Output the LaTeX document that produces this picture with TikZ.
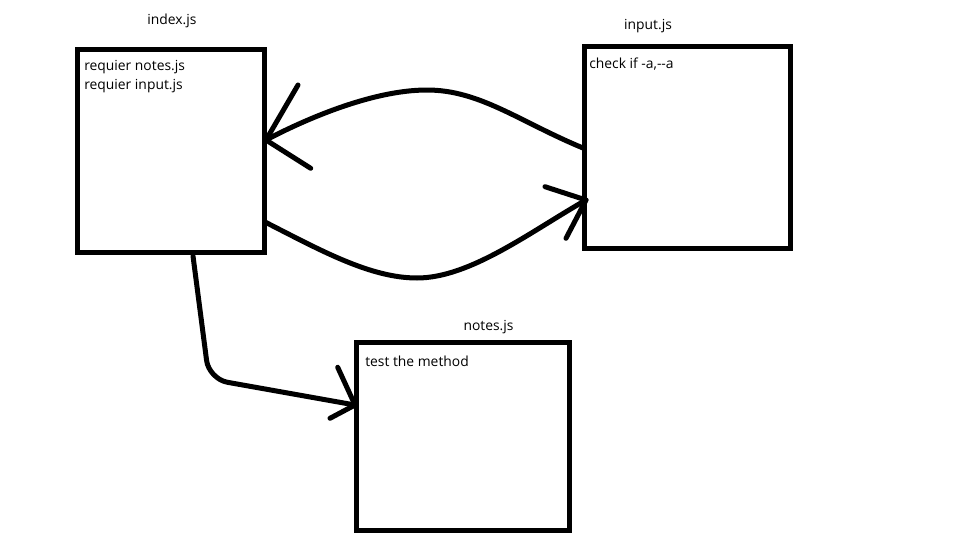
\documentclass[tikz,border=0pt]{standalone}
\usepackage{fontspec}
\setmainfont{Open Sans}
\begin{document}
\begin{tikzpicture}[x=0.75pt,y=-0.75pt,
  filebox/.style={draw=black,line width=3.75pt,rectangle,inner sep=0pt,outer sep=0pt,anchor=north west},
  conn/.style={draw=black,line width=3.75pt,line cap=round,line join=round},
  lbl/.style={font=\fontsize{10.4pt}{12pt}\selectfont,inner sep=0pt,anchor=base west},
  ttl/.style={font=\fontsize{10.4pt}{12pt}\selectfont,inner sep=0pt,anchor=base}]
\useasboundingbox[fill=white] (0,0) rectangle (953,542);
% boxes
\node[filebox,minimum width=187*0.75pt,minimum height=202*0.75pt] (idx) at (77,50) {};
\node[filebox,minimum width=206.5*0.75pt,minimum height=201.5*0.75pt] (inp) at (584,46.7) {};
\node[filebox,minimum width=213*0.75pt,minimum height=187.5*0.75pt] (nts) at (356,342.5) {};
% titles
\node[ttl] (tidx) at (172,25) {index.js};
\node[ttl] (tinp) at (648,29.5) {input.js};
\node[ttl] (tnts) at (488.5,330) {notes.js};
% contents
\node[lbl] (c1) at (84,70.5) {requier notes.js};
\node[lbl] (c2) at (84,89.5) {requier input.js};
\node[lbl] (c3) at (589,69) {check if -a,{-}{-}a};
\node[lbl] (c4) at (365,366) {test the method};
% connection points
\coordinate (p1) at (583,148);
\coordinate (p2) at (266,140);
\coordinate (p3) at (265,222);
\coordinate (p4) at (586,200);
\coordinate (p5) at (193,256);
\coordinate (p6) at (355,405);
% input -> index (top curve)
\draw[conn] (p1) .. controls (520,122) and (480,90) .. (427,90)
  .. controls (370,90) and (300,122) .. (p2);
\draw[conn] (298,85) -- (p2) -- (310.7,168.3);
% index -> input (bottom curve)
\draw[conn] (p3) .. controls (320,250) and (370,278) .. (417,278)
  .. controls (470,278) and (530,232) .. (p4);
\draw[conn] (545,186.7) -- (p4) -- (566,238.3);
% index -> notes
\draw[conn,rounded corners=14pt] (p5) -- (209,379) -- (p6);
\draw[conn] (337.7,367.3) -- (p6) -- (330,418.3);
\end{tikzpicture}
\end{document}
